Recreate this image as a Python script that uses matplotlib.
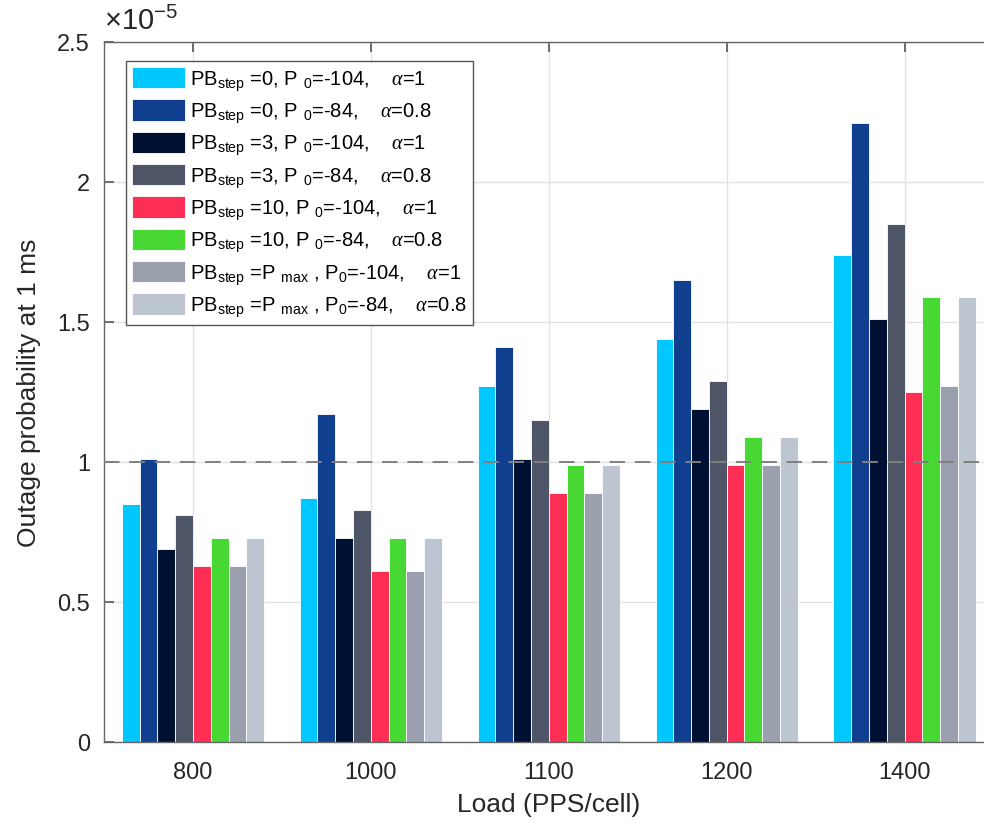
import matplotlib
matplotlib.use("Agg")
import matplotlib.pyplot as plt
import numpy as np

plt.rcParams['font.family'] = ['Liberation Sans', 'DejaVu Sans']
plt.rcParams['mathtext.fontset'] = 'custom'
plt.rcParams['mathtext.rm'] = 'Liberation Sans'
plt.rcParams['mathtext.it'] = 'Liberation Serif:italic'
plt.rcParams['mathtext.default'] = 'regular'

# loads (PPS/cell)
loads = ['800', '1000', '1100', '1200', '1400']

# outage probability at 1 ms, in units of 1e-5
pb0_p104  = [0.85, 0.87, 1.27, 1.44, 1.74]
pb0_p84   = [1.01, 1.17, 1.41, 1.65, 2.21]
pb3_p104  = [0.69, 0.73, 1.01, 1.19, 1.51]
pb3_p84   = [0.81, 0.83, 1.15, 1.29, 1.85]
pb10_p104 = [0.63, 0.61, 0.89, 0.99, 1.25]
pb10_p84  = [0.73, 0.73, 0.99, 1.09, 1.59]
pmax_p104 = [0.63, 0.61, 0.89, 0.99, 1.27]
pmax_p84  = [0.73, 0.73, 0.99, 1.09, 1.59]

series = [pb0_p104, pb0_p84, pb3_p104, pb3_p84, pb10_p104, pb10_p84, pmax_p104, pmax_p84]
labels = [
    r'PB$_{\rm step}$ =0, P $_0$=-104,    $\mathit{\alpha}$=1',
    r'PB$_{\rm step}$ =0, P $_0$=-84,    $\mathit{\alpha}$=0.8',
    r'PB$_{\rm step}$ =3, P $_0$=-104,    $\mathit{\alpha}$=1',
    r'PB$_{\rm step}$ =3, P $_0$=-84,    $\mathit{\alpha}$=0.8',
    r'PB$_{\rm step}$ =10, P $_0$=-104,    $\mathit{\alpha}$=1',
    r'PB$_{\rm step}$ =10, P $_0$=-84,    $\mathit{\alpha}$=0.8',
    r'PB$_{\rm step}$ =P $_{\rm max}$ , P$_0$=-104,    $\mathit{\alpha}$=1',
    r'PB$_{\rm step}$ =P $_{\rm max}$ , P$_0$=-84,    $\mathit{\alpha}$=0.8',
]
colors = ['#00C8FF', '#103F8F', '#001033', '#4D5566',
          '#FF2E55', '#48D834', '#9AA0AD', '#BCC5D0']
threshold = 1.0

fig = plt.figure(figsize=(9.84, 8.28), dpi=100)
ax = fig.add_axes([0.1057, 0.1027, 0.904, 0.8454])

x = np.arange(1, len(loads) + 1)
w = 0.1
for i, (vals, lab, col) in enumerate(zip(series, labels, colors)):
    ax.bar(x + (i - 3.5) * w, vals, width=w, color=col, edgecolor='white',
           linewidth=0.6, label=lab, zorder=2)

ax.axhline(threshold, color='#808080', linestyle=(0, (8, 5)), linewidth=1.4, zorder=3)

ax.set_xlim(0.5, 5.5)
ax.set_ylim(0, 2.5)
ax.set_xticks(x)
ax.set_xticklabels(loads)
ax.set_yticks([0, 0.5, 1, 1.5, 2, 2.5])
ax.set_yticklabels(['0', '0.5', '1', '1.5', '2', '2.5'])
ax.grid(True, color='#E3E3E3', linewidth=1.0, zorder=0)
ax.set_axisbelow(True)
ax.tick_params(direction='in', length=7, width=1.2, color='#555555',
               labelsize=17, labelcolor='#262626', top=True, right=True)
ax.tick_params(axis='x', pad=14)
ax.tick_params(axis='y', pad=10)
for sp in ax.spines.values():
    sp.set_color('#666666')
    sp.set_linewidth(1.0)
ax.spines['right'].set_visible(False)

ax.text(0.0, 1.01, r'$\times$10$^{-5}$', transform=ax.transAxes,
        fontsize=21, color='#262626', ha='left', va='bottom')

ax.set_xlabel('Load (PPS/cell)', fontsize=19, color='#262626', labelpad=6)
ax.set_ylabel('Outage probability at 1 ms', fontsize=19, color='#262626', labelpad=12)

leg = ax.legend(loc='upper left', bbox_to_anchor=(0.025, 0.973), borderaxespad=0,
                fontsize=14.5, handlelength=2.6, handleheight=1.25, labelspacing=0.33,
                handletextpad=0.25, borderpad=0.3, fancybox=False, framealpha=1,
                edgecolor='#555555')
leg.get_frame().set_linewidth(1.0)

fig.savefig('out.png', dpi=100)
